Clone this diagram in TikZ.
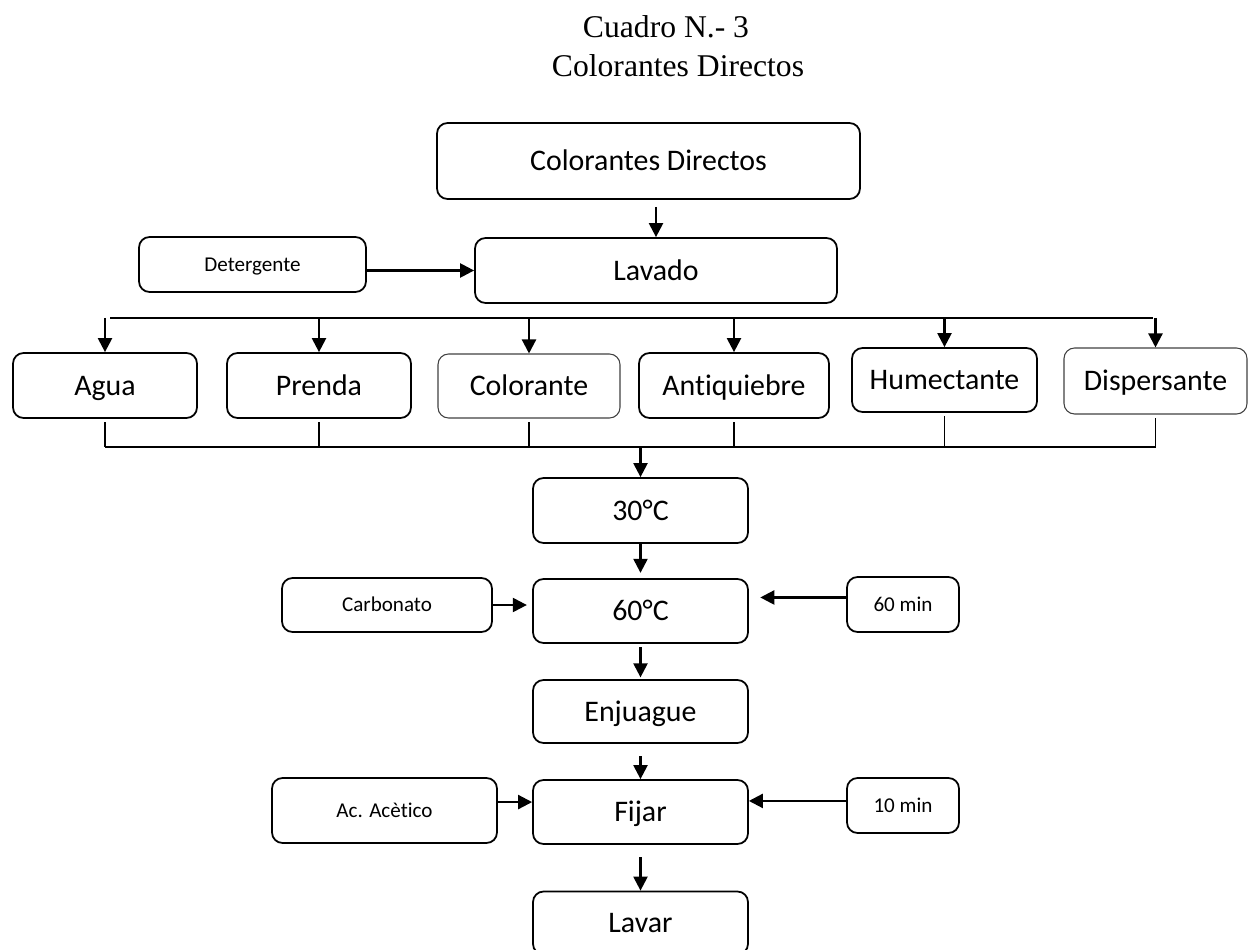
\documentclass[tikz,border=0pt]{standalone}
\usepackage{fontspec}
\setmainfont{Carlito}[Ligatures=CommonOff]
\newfontfamily\titlefont{Liberation Serif}
\usepackage{tikz}
\usetikzlibrary{shapes,arrows.meta,positioning}
\tikzset{
  block/.style={
    rectangle,
    draw=black,
    line width=1pt,
    rounded corners=6pt,
    minimum width=4.3cm,
    minimum height=1.28cm,
    text height=10.9pt,
    text depth=0pt,
    align=center,
    font=\fontsize{17}{20}\selectfont
  },
  arrow/.style={
    -{Triangle[length=8pt,width=8pt]},
    line width=1.3pt
  }
}

\begin{document}
\begin{tikzpicture}[
  input_block/.style={block, minimum width=2.24cm, minimum height=1.1cm, text height=7.7pt, font=\fontsize{12}{14}\selectfont},
  item_block/.style={block, minimum width=3.68cm, minimum height=1.3cm},
  light_block/.style={item_block, draw=black!75, line width=0.6pt},
  bus/.style={line width=1.1pt},
  stub/.style={line width=0.9pt, shorten <=2pt}
]
\useasboundingbox (0,0) rectangle (24.96,-19);

% Title
\node[font=\titlefont\fontsize{18}{21}\selectfont, anchor=base] (title1) at (13.32, -0.76) {Cuadro N.- 3};
\node[font=\titlefont\fontsize{18}{21}\selectfont, anchor=base] (title2) at (13.56, -1.54) {Colorantes Directos};

% Start and washing
\node[block, minimum width=8.46cm, minimum height=1.52cm] (start) at (12.97, -3.22) {Colorantes Directos};
\node[block, minimum width=7.24cm, minimum height=1.3cm] (lavado) at (13.12, -5.41) {Lavado};
\node[input_block, minimum width=4.54cm] (deterg) at (5.05, -5.29) {Detergente};

% Bath components
\coordinate (busA) at (2.2, -6.36);
\coordinate (busB) at (23.06, -6.36);
\coordinate (busC) at (2.2, -8.94);
\node[item_block] (agua) at (2.1, -7.71) {Agua};
\node[item_block] (prenda) at (6.38, -7.71) {Prenda};
\node[light_block, minimum width=3.64cm, minimum height=1.28cm] (colorante) at (10.58, -7.72) {Colorante};
\node[item_block, minimum width=3.8cm] (antiq) at (14.68, -7.71) {Antiquiebre};
\node[item_block, minimum width=3.7cm, minimum height=1.28cm] (humect) at (18.89, -7.6) {Humectante};
\node[light_block, minimum width=3.66cm, minimum height=1.32cm] (dispers) at (23.11, -7.62) {Dispersante};

% Dyeing steps
\node[block, minimum height=1.3cm] (t30) at (12.81, -10.21) {30°C};
\node[block] (t60) at (12.81, -12.22) {60°C};
\node[block, minimum height=1.26cm] (enjuague) at (12.81, -14.23) {Enjuague};
\node[block] (fijar) at (12.81, -16.24) {Fijar};
\node[block, minimum height=1.26cm] (lavar) at (12.81, -18.46) {Lavar};

% Side inputs
\node[input_block, minimum width=4.2cm, minimum height=1.08cm] (carbon) at (7.74, -12.1) {Carbonato};
\node[input_block] (min60) at (18.06, -12.09) {60 min};
\node[input_block, minimum width=4.5cm, minimum height=1.3cm] (acetico) at (7.69, -16.21) {Ac. Acètico};
\node[input_block] (min10) at (18.06, -16.11) {10 min};

% Connection lines - top
\draw[arrow, shorten <=4pt] (lavado.north |- start.south) -- (lavado.north);
\draw[arrow] (deterg.east |- lavado.west) -- (lavado.west);

% Distribution to components
\draw[bus] (busA) -- (busB);
\foreach \n in {agua, prenda, colorante, antiq, humect, dispers}
  \draw[arrow] (\n.north |- busA) -- (\n.north);

% Components to bath
\draw[bus] (agua.south |- busC) -- (dispers.south |- busC);
\foreach \n in {agua, prenda, colorante, antiq, humect, dispers}
  \draw[stub] (\n.south) -- (\n.south |- busC);
\draw[arrow] (t30.north |- busC) -- (t30.north);

% Main sequence
\draw[arrow, shorten >=3pt] (t30) -- (t60);
\draw[arrow, shorten <=2pt, shorten >=1pt] (t60) -- (enjuague);
\draw[arrow, shorten <=7pt] (enjuague) -- (fijar);
\draw[arrow, shorten <=7pt] (fijar) -- (lavar);

% Side inputs to steps
\draw[arrow, shorten >=3pt] (carbon.east) -- (carbon.east -| t60.west);
\draw[arrow, shorten >=6.5pt] ([yshift=4pt]min60.west) -- ([yshift=4pt]min60.west -| t60.east);
\draw[arrow] ([yshift=4.8pt]acetico.east) -- ([yshift=4.8pt]acetico.east -| fijar.west);
\draw[arrow] ([yshift=2.6pt]min10.west) -- ([yshift=2.6pt]min10.west -| fijar.east);

\end{tikzpicture}
\end{document}
